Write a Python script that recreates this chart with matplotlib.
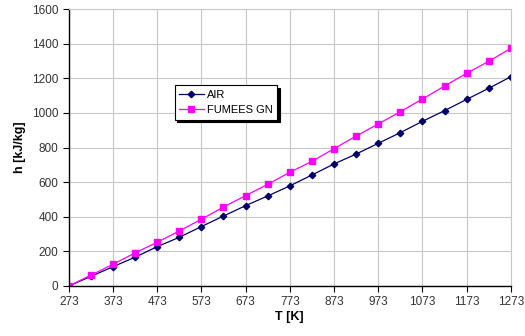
import matplotlib
matplotlib.use("Agg")
import matplotlib.pyplot as plt

plt.rcParams['font.family'] = ['Liberation Sans', 'DejaVu Sans']

# data
T = [273, 323, 373, 423, 473, 523, 573, 623, 673, 723, 773,
     823, 873, 923, 973, 1023, 1073, 1123, 1173, 1223, 1273]
h_air = [0, 55, 111, 166, 227, 281, 343, 404, 464, 520, 578,
         641, 705, 762, 824, 886, 951, 1013, 1078, 1142, 1209]
h_fumees = [0, 62, 125, 191, 252, 318, 385, 456, 522, 587, 657,
            720, 793, 866, 936, 1007, 1080, 1155, 1229, 1298, 1373]
xticks = list(range(273, 1274, 100))
yticks = list(range(0, 1601, 200))

fig = plt.figure(figsize=(5.25, 3.36), dpi=100)
ax = fig.add_axes([0.131, 0.149, 0.842, 0.824])

ax.plot(T, h_air, color='#000066', marker='D', markersize=3.3, lw=0.9, label='AIR')
ax.plot(T, h_fumees, color='#ff00ff', marker='s', markersize=3.8, lw=0.9, label='FUMEES GN')

ax.set_xlim(273, 1273)
ax.set_ylim(0, 1600)
ax.set_xticks(xticks)
ax.set_yticks(yticks)
ax.grid(True, color='#c8c8c8', lw=0.8)
ax.set_axisbelow(True)
ax.tick_params(labelsize=8.5, labelcolor='#333333', color='black', length=4, width=0.8)
for s in ['top', 'right']:
    ax.spines[s].set_color('#c8c8c8')
for s in ['left', 'bottom']:
    ax.spines[s].set_linewidth(1.0)

ax.set_xlabel('T [K]', fontsize=9, fontweight='bold', labelpad=2)
ax.set_ylabel('h [kJ/kg]', fontsize=9, fontweight='bold', labelpad=4)

leg = ax.legend(loc='upper left', bbox_to_anchor=(0.227, 0.745), fontsize=8,
                frameon=True, fancybox=False,
                shadow={'color': 'black', 'alpha': 1.0, 'ox': 2, 'oy': -2},
                handlelength=2.2, borderpad=0.4, labelspacing=0.5,
                handletextpad=0.3, framealpha=1)
leg.get_frame().set_edgecolor('black')
leg.get_frame().set_linewidth(0.8)

fig.savefig('out.png', dpi=100)
